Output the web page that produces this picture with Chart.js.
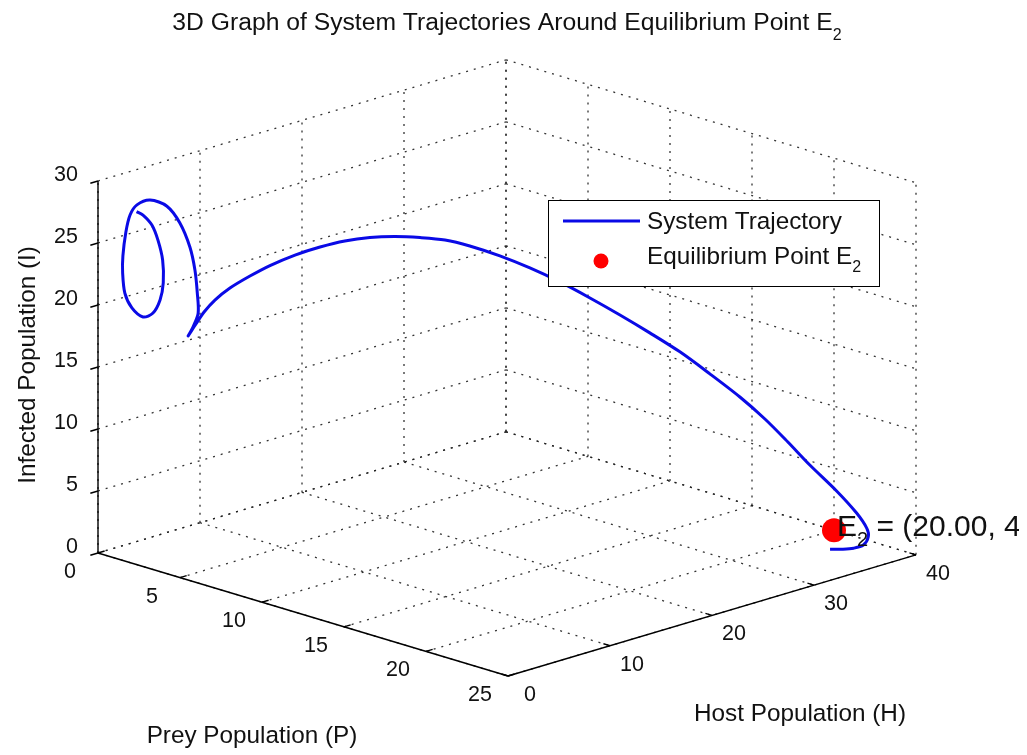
<!DOCTYPE html>
<html><head><meta charset="utf-8">
<script src="https://cdn.jsdelivr.net/npm/chart.js@4.4.0/dist/chart.umd.min.js"></script>
<style>html,body{margin:0;padding:0;background:#fff;overflow:hidden}canvas{display:block}</style>
</head><body>
<canvas id="c" width="1027" height="755"></canvas>
<script>
// ---------------- data ----------------
const preyTicks = [0, 5, 10, 15, 20, 25];
const hostTicks = [0, 10, 20, 30, 40];
const infTicks  = [0, 5, 10, 15, 20, 25, 30];

// System trajectory (P = prey, H = host, I = infected)
const trajP = [1.32,1.50,1.75,1.92,2.05,2.07,1.98,1.78,1.50,1.19,0.99,0.93,0.94,1.02,1.14,1.33,1.70,2.17,2.53,2.81,2.95,3.02,3.04,2.90,2.76,
  2.98,3.21,3.51,3.93,4.49,5.05,5.75,6.45,7.14,7.84,8.54,9.24,9.94,10.63,11.47,12.31,13.15,13.99,14.83,15.66,16.50,17.34,18.18,18.88,19.52,20.13,20.88,21.44,
  22.07,22.34,22.66,22.56,22.25,21.83];
const trajH = [1.66,2.00,2.47,2.79,3.04,3.07,2.90,2.53,2.00,1.41,1.04,0.92,0.93,1.09,1.31,1.68,2.37,3.27,3.96,4.49,4.76,4.88,4.93,4.65,4.40,
  4.81,5.24,5.82,6.62,7.68,8.74,10.07,11.40,12.72,14.05,15.38,16.71,18.04,19.36,20.96,22.55,24.14,25.74,27.33,28.92,30.52,32.11,33.70,35.03,36.25,37.42,38.84,39.90,
  39.89,39.60,38.60,37.80,37.18,36.67];
const trajI = [27.65,27.36,26.54,25.31,23.70,21.85,20.48,19.44,19.14,19.89,21.10,22.73,24.10,26.01,27.39,28.19,28.56,28.03,26.65,24.69,22.83,20.97,19.35,18.24,17.52,
  18.48,19.43,20.37,21.31,22.24,23.05,23.85,24.45,24.89,25.12,25.15,25.02,24.78,24.25,23.39,22.36,21.18,19.83,18.40,16.90,15.31,13.48,11.56,9.74,7.84,5.94,3.80,1.98,
  1.00,0.50,0.20,0.10,0.05,0.00];

// Equilibrium point E2
const eqP = [20.00];
const eqH = [40.00];
const eqI = [0.00];

const titleMain = '3D Graph of System Trajectories Around Equilibrium Point E';
const titleSub = '2';
const labelP = 'Prey Population (P)';
const labelH = 'Host Population (H)';
const labelI = 'Infected Population (I)';
const legendLabels = ['System Trajectory', 'Equilibrium Point E'];
const eqLabel = ' = (20.00, 40.00, 0.00)';

// ---------------- view (projection of the 3D box) ----------------
const VIEW = { ox: 98, oy: 553, px: 16.4, py: 4.92, hx: 10.2, hy: -3.03, iy: -12.4 };
function proj(p, h, i) {
  return { x: VIEW.ox + VIEW.px * p + VIEW.hx * h, y: VIEW.oy + VIEW.py * p + VIEW.hy * h + VIEW.iy * i };
}
const Pmin = preyTicks[0], Pmax = preyTicks[preyTicks.length - 1];
const Hmin = hostTicks[0], Hmax = hostTicks[hostTicks.length - 1];
const Imin = infTicks[0], Imax = infTicks[infTicks.length - 1];

const datasets = [];
const GRID = { borderColor: 'rgba(30,30,30,0.9)', borderWidth: 1.3, borderDash: [2, 6] };
function addSeg(a, b, style, order) {
  datasets.push(Object.assign({
    data: [proj(a[0], a[1], a[2]), proj(b[0], b[1], b[2])],
    showLine: true, pointRadius: 0, fill: false, tension: 0, order: order
  }, style));
}
// floor grid (I = 0)
preyTicks.forEach(p => addSeg([p, Hmin, Imin], [p, Hmax, Imin], GRID, 5));
hostTicks.forEach(h => addSeg([Pmin, h, Imin], [Pmax, h, Imin], GRID, 5));
// back wall P = 0
hostTicks.forEach(h => addSeg([Pmin, h, Imin], [Pmin, h, Imax], GRID, 5));
infTicks.forEach(i => addSeg([Pmin, Hmin, i], [Pmin, Hmax, i], GRID, 5));
// back wall H = 40
preyTicks.forEach(p => addSeg([p, Hmax, Imin], [p, Hmax, Imax], GRID, 5));
infTicks.forEach(i => addSeg([Pmin, Hmax, i], [Pmax, Hmax, i], GRID, 5));

// axes (solid)
const AX = { borderColor: '#000', borderWidth: 1.4 };
addSeg([Pmin, Hmin, Imin], [Pmin, Hmin, Imax], AX, 3);
addSeg([Pmin, Hmin, Imin], [Pmax, Hmin, Imin], AX, 3);
addSeg([Pmax, Hmin, Imin], [Pmax, Hmax, Imin], AX, 3);
// tick marks
infTicks.forEach(i => addSeg([Pmin, Hmin, i], [Pmin, Hmin - 0.75, i], AX, 3));
preyTicks.forEach(p => addSeg([p, Hmin, Imin], [p, Hmin + 0.65, Imin], AX, 3));
hostTicks.forEach(h => addSeg([Pmax, h, Imin], [Pmax - 0.4, h, Imin], AX, 3));

// trajectory
datasets.push({
  label: legendLabels[0],
  data: trajP.map((p, k) => proj(p, trajH[k], trajI[k])),
  showLine: true, pointRadius: 0, fill: false, tension: 0.3,
  borderColor: '#0a0ae6', borderWidth: 3, order: 1
});
// equilibrium point
datasets.push({
  label: legendLabels[1],
  data: eqP.map((p, k) => proj(p, eqH[k], eqI[k])),
  showLine: false, pointRadius: 12, pointBackgroundColor: '#ff0000', pointBorderColor: '#ff0000',
  pointBorderWidth: 0, order: 0
});

// ---------------- text drawing ----------------
const FONT = '"Liberation Sans", Arial, Helvetica, sans-serif';
const INK = '#111';
function txt(ctx, s, x, y, size, align, sub, subSize, subDy) {
  ctx.font = size + 'px ' + FONT;
  const w = ctx.measureText(s).width;
  let sw = 0;
  if (sub) { ctx.font = subSize + 'px ' + FONT; sw = ctx.measureText(sub).width; }
  const x0 = align === 'center' ? x - (w + sw) / 2 : align === 'right' ? x - (w + sw) : x;
  ctx.textAlign = 'left'; ctx.textBaseline = 'middle';
  ctx.font = size + 'px ' + FONT; ctx.fillText(s, x0, y);
  if (sub) { ctx.font = subSize + 'px ' + FONT; ctx.fillText(sub, x0 + w, y + subDy); }
  return x0 + w + sw;
}

const bgPlugin = {
  id: 'bg',
  beforeDraw(chart) {
    const c = chart.ctx; c.save(); c.fillStyle = '#fff'; c.fillRect(0, 0, chart.width, chart.height); c.restore();
  }
};

const textPlugin = {
  id: 'texts',
  afterDraw(chart) {
    const ctx = chart.ctx;
    ctx.save();
    ctx.fillStyle = INK;
    // title
    txt(ctx, titleMain, 507, 23, 24.7, 'center', titleSub, 16, 13);
    // tick labels
    preyTicks.forEach(p => { const q = proj(p, Hmin, Imin); txt(ctx, String(p), q.x - 28, q.y + 19, 21.5, 'center'); });
    hostTicks.forEach(h => { const q = proj(Pmax, h, Imin); txt(ctx, String(h), q.x + 22, q.y + 19, 21.5, 'center'); });
    infTicks.forEach(i => { const q = proj(Pmin, Hmin, i); txt(ctx, String(i), q.x - 20, q.y - 6, 21.5, 'right'); });
    // axis labels
    txt(ctx, labelP, 252, 736, 24.3, 'center');
    txt(ctx, labelH, 800, 714, 24.3, 'center');
    ctx.save(); ctx.translate(28, 365); ctx.rotate(-Math.PI / 2);
    txt(ctx, labelI, 0, 0, 24.3, 'center');
    ctx.restore();

    // legend
    const lx = 548.5, ly = 200.5, lw = 331, lh = 86;
    ctx.fillStyle = '#fff'; ctx.fillRect(lx, ly, lw, lh);
    ctx.strokeStyle = '#000'; ctx.lineWidth = 1; ctx.strokeRect(lx, ly, lw, lh);
    ctx.strokeStyle = datasets[datasets.length - 2].borderColor; ctx.lineWidth = 3;
    ctx.beginPath(); ctx.moveTo(563, 221); ctx.lineTo(640, 221); ctx.stroke();
    ctx.fillStyle = '#ff0000'; ctx.beginPath(); ctx.arc(601, 261, 7.5, 0, Math.PI * 2); ctx.fill();
    ctx.fillStyle = INK;
    txt(ctx, legendLabels[0], 647, 222, 24.3, 'left');
    txt(ctx, legendLabels[1], 647, 257, 24.3, 'left', '2', 16, 11);

    // equilibrium label (clipped at the figure edge like the original)
    ctx.save();
    ctx.beginPath(); ctx.rect(0, 0, 1019, chart.height); ctx.clip();
    const e = proj(eqP[0], eqH[0], eqI[0]);
    let x = txt(ctx, 'E', e.x + 3, e.y - 2, 30, 'left', '2', 20, 12);
    txt(ctx, eqLabel, x, e.y - 2, 30, 'left');
    ctx.restore();
    ctx.restore();
  }
};

new Chart(document.getElementById('c'), {
  type: 'scatter',
  data: { datasets: datasets },
  options: {
    responsive: false, animation: false, devicePixelRatio: 1, events: [],
    layout: { padding: 0, autoPadding: false },
    plugins: { legend: { display: false }, tooltip: { enabled: false }, title: { display: false } },
    scales: {
      x: { type: 'linear', min: 0, max: 1027, display: false },
      y: { type: 'linear', min: 0, max: 755, reverse: true, display: false }
    }
  },
  plugins: [bgPlugin, textPlugin]
});
</script>
</body></html>
